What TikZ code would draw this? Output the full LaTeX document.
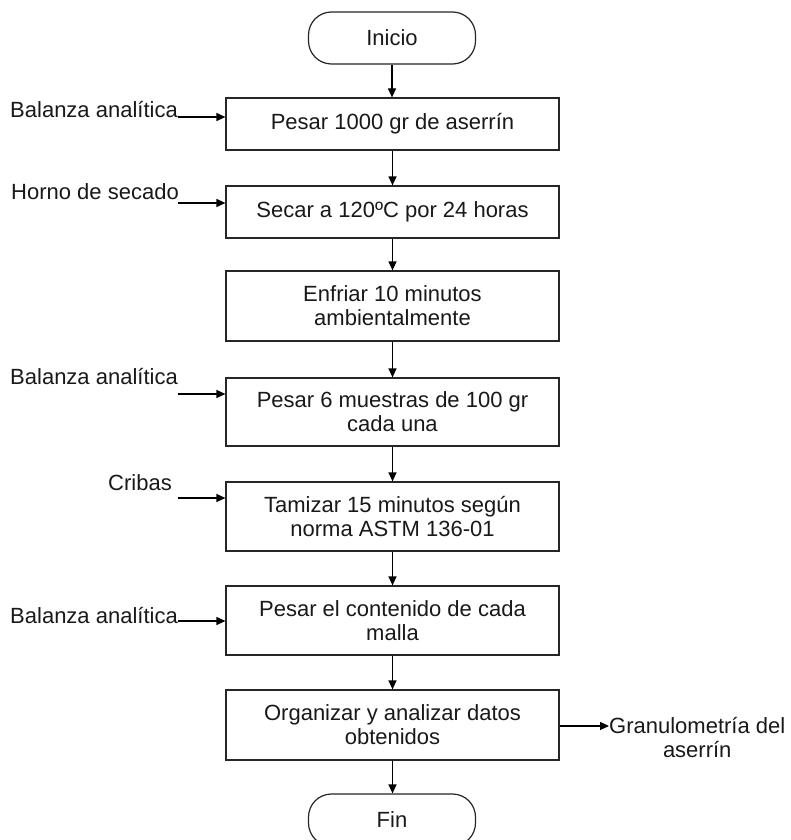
\documentclass[tikz,border=0pt]{standalone}
\usepackage{fontspec}
\setmainfont{Liberation Sans}
\usetikzlibrary{arrows.meta}
\begin{document}
\begin{tikzpicture}[x=1pt,y=-1pt,
  every node/.style={font=\fontsize{22}{24}\selectfont, text=black!90},
  stepbox/.style={draw=black!85, line width=1.2pt, minimum width=333pt, align=center, inner sep=0pt},
  term/.style={draw=black!85, line width=1.2pt, rounded corners=23pt, minimum width=167pt, minimum height=52pt, inner sep=0pt},
  lab/.style={inner sep=0pt, anchor=east},
  flow/.style={draw=black, line width=1.2pt, -{Triangle[length=9pt,width=8pt]}}]
\useasboundingbox (0,0) rectangle (791,840);
\fill[white] (0,0) rectangle (791,840);

% main process column
\node[term] (inicio) at (392,38) {Inicio};
\node[stepbox, minimum height=52pt] (b1) at (392.5,124) {Pesar 1000 gr de aserrín};
\node[stepbox, minimum height=52pt] (b2) at (392.5,212) {Secar a 120ºC por 24 horas};
\node[stepbox, minimum height=70pt] (b3) at (392.5,306) {Enfriar 10 minutos\\ambientalmente};
\node[stepbox, minimum height=68pt] (b4) at (392.5,412) {Pesar 6 muestras de 100 gr\\cada una};
\node[stepbox, minimum height=69pt] (b5) at (392.5,516.5) {Tamizar 15 minutos según\\norma ASTM 136-01};
\node[stepbox, minimum height=69pt] (b6) at (392.5,620.5) {Pesar el contenido de cada\\malla};
\node[stepbox, minimum height=70pt] (b7) at (392.5,725) {Organizar y analizar datos\\obtenidos};
\node[term] (fin) at (392,820) {Fin};

\draw[flow] (inicio.south) -- (inicio.south |- b1.north);
\draw[flow] (b1) -- (b2);
\draw[flow] (b2) -- (b3);
\draw[flow] (b3) -- (b4);
\draw[flow] (b4) -- (b5);
\draw[flow] (b5) -- (b6);
\draw[flow] (b6) -- (b7);
\draw[flow] (b7.south) -- (b7.south |- fin.north);

% resources entering from the left
\node[lab] (r1) at (178,110) {Balanza analítica};
\node[lab] (r2) at (179,192) {Horno de secado};
\node[lab] (r4) at (178,377) {Balanza analítica};
\node[lab] (r5) at (172,483) {Cribas};
\node[lab] (r6) at (178,616) {Balanza analítica};

\coordinate (s1) at (178,117);
\coordinate (s2) at (178,203);
\coordinate (s4) at (178,394);
\coordinate (s5) at (178,498);
\coordinate (s6) at (178,621);

\draw[flow] (s1) -- (s1 -| b1.west);
\draw[flow] (s2) -- (s2 -| b2.west);
\draw[flow] (s4) -- (s4 -| b4.west);
\draw[flow] (s5) -- (s5 -| b5.west);
\draw[flow] (s6) -- (s6 -| b6.west);

% result leaving on the right
\node[inner sep=0pt, anchor=west, align=center] (out) at (609,737) {Granulometría del\\aserrín};
\coordinate (e7) at (b7.east |- 0,726);
\draw[flow] (e7) -- (609,726);
\end{tikzpicture}
\end{document}
